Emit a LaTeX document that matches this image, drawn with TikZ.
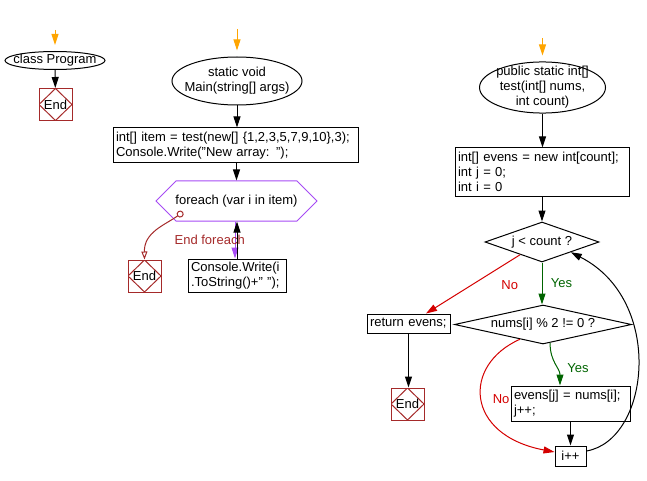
\documentclass[tikz,border=0pt]{standalone}
\usepackage{fontspec}
\setmainfont{Liberation Sans}
\usepackage{tikz}
\usetikzlibrary{shapes.geometric,shapes.misc,arrows.meta,calc}
\definecolor{FlowOrange}{HTML}{FFA500}
\definecolor{FlowEnd}{HTML}{A52A2A}
\definecolor{FlowPurple}{HTML}{A64BF4}
\definecolor{FlowRed}{HTML}{D40000}
\definecolor{FlowGreen}{HTML}{006400}

\begin{document}
\begin{tikzpicture}[x=1pt, y=-1pt, line width=1pt, >={Triangle[length=11pt,width=7pt]},
  every node/.style={font=\fontsize{13}{15}\selectfont},
  startnode/.style={draw, ellipse, inner xsep=-8pt, inner ysep=-3pt, align=center},
  codebox/.style={draw, rectangle, inner xsep=3pt, inner ysep=1pt, align=left},
  endnode/.style={draw=FlowEnd, minimum width=33, minimum height=32, inner sep=0pt, path picture={\draw[FlowEnd, line width=1pt] (path picture bounding box.north) -- (path picture bounding box.east) -- (path picture bounding box.south) -- (path picture bounding box.west) -- cycle;}},
  decision/.style={draw, diamond, inner sep=0pt},
  loopnode/.style={draw=FlowPurple, chamfered rectangle, chamfered rectangle xsep=39pt, chamfered rectangle ysep=14pt, inner sep=0pt, minimum width=161, minimum height=28},
  entry/.style={->, FlowOrange, shorten >=6pt}]
  \useasboundingbox (0,0) rectangle (647,481);
  \coordinate (inA) at (55,30);
  \coordinate (inB) at (237,29);
  \coordinate (inC) at (542.5,38);
  \node[startnode, minimum width=100, minimum height=18] (cls) at (55,60.5) {class Program};
  \node[endnode] (endA) at (55.5,104.5) {End};
  \node[startnode, minimum width=130, minimum height=48] (main) at (237,81) {static void\\Main(string[] args)};
  \node[codebox, text width=239, minimum height=35] (item) at (235.5,145.5) {int[] item = test(new[] \{1,2,3,5,7,9,10\},3);\\Console.Write("New array: ");};
  \node[loopnode] (fe) at (236.5,201) {foreach (var i in item)};
  \node[codebox, text width=92, minimum height=33] (con) at (237,275.5) {Console.Write(i\\.ToString()+" ");};
  \node[endnode] (endB) at (144.5,276) {End};
  \node[startnode, minimum width=126, minimum height=51] (test) at (542.5,87.5) {public static int[]\\test(int[] nums,\\int count)};
  \node[codebox, text width=168, minimum height=48] (evens) at (542,172) {int[] evens = new int[count];\\int j = 0;\\int i = 0};
  \node[decision, aspect=2.85, minimum width=114, minimum height=40] (cond) at (542,242) {j < count ?};
  \node[decision, aspect=4.5, minimum width=177, minimum height=39] (even) at (543,324.5) {nums[i] \% 2 != 0 ?};
  \node[codebox, text width=77, minimum height=19] (ret) at (408.5,323.5) {return evens;};
  \node[endnode] (endC) at (407.5,404) {End};
  \node[codebox, text width=113, minimum height=35] (store) at (570.5,403.5) {evens[j] = nums[i];\\j++;};
  \node[codebox, text width=25, minimum height=20, align=center] (inc) at (570.5,456) {i++};
  \draw[entry] (inA) -- (cls);
  \draw[->] (cls) -- (endA);
  \draw[entry] (inB) -- (main);
  \draw[->] (main) -- (main |- item.north);
  \draw[->] (fe.north |- item.south) -- (fe.north);
  \draw[->, FlowPurple] ([xshift=-1.5pt]fe.south) -- ([xshift=-1.5pt]fe.south |- con.north);
  \draw[->] (con.north) -- (con.north |- fe.south);
  \draw[FlowEnd, arrows={Circle[open,length=7pt]-Triangle[open,length=8pt,width=6pt]}] ([xshift=-53.5pt, yshift=-11pt]fe.center) .. controls (165,225) and (144,232) .. (endB.north) node[pos=0.5, anchor=west, xshift=14pt, yshift=-10pt, text=FlowEnd] {End foreach};
  \draw[entry] (inC) -- (test);
  \draw[->] (test) -- (test |- evens.north);
  \draw[->] (evens.south -| cond.north) -- (cond.north);
  \draw[->, FlowGreen] (cond.south) -- (cond.south |- even.north) node[midway, right=5pt, text=FlowGreen] {Yes};
  \draw[->, FlowRed] ($(cond.south)!0.38!(cond.west)$) -- ([xshift=17.5pt]ret.north) node[pos=0.45, xshift=32pt, yshift=-4pt, text=FlowRed] {No};
  \draw[->] (ret.south) -- (ret.south |- endC.north);
  \draw[->, FlowGreen] (even.291) .. controls (550,362) and (560,368) .. ([xshift=-10.5pt]store.north) node[pos=0.6, right=7pt, text=FlowGreen] {Yes};
  \draw[->] (store) -- (inc);
  \draw[->, FlowRed] ($(even.south)!0.26!(even.west)$) .. controls (462,365) and (465,435) .. ([yshift=4pt]inc.west) node[pos=0.5, right=7pt, text=FlowRed] {No};
  \draw[->] ([yshift=5pt]inc.east) .. controls (650,440) and (665,300) .. ($(cond.south)!0.5!(cond.east)$);
\end{tikzpicture}
\end{document}
